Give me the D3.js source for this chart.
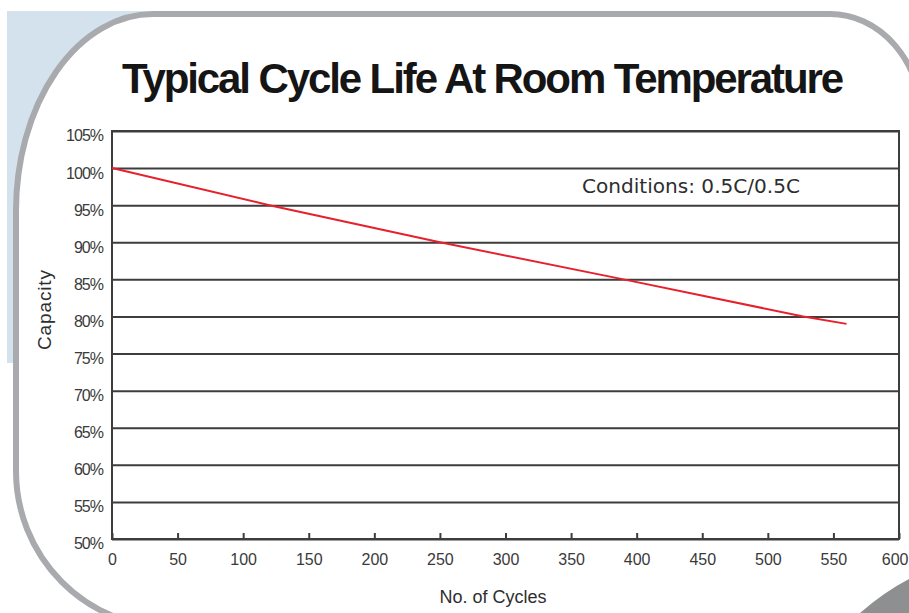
<!DOCTYPE html>
<html>
<head>
<meta charset="utf-8">
<script src="https://cdn.jsdelivr.net/npm/d3@7"></script>
<style>
    body { margin: 0; background: #fff; }
    svg { display: block; }
    text { font-family: "Liberation Sans", Arial, sans-serif; fill: #333; }
</style>
</head>
<body>
<div id="chart"></div>
<script>
// values
var cycles   = [0, 120, 250, 390, 527, 560];
var capacity = [100, 95, 90, 85, 80, 79];
var xTicks = [0, 50, 100, 150, 200, 250, 300, 350, 400, 450, 500, 550, 600];
var yTicks = [50, 55, 60, 65, 70, 75, 80, 85, 90, 95, 100, 105];

var title = "Typical Cycle Life At Room Temperature",
    note = "Conditions: 0.5C/0.5C",
    xLabel = "No. of Cycles",
    yLabel = "Capacity";

var width = 909,
    height = 613;

var svg = d3.select("#chart")
    .append("svg")
    .attr("width", width)
    .attr("height", height);

// card background: light blue patch behind the top-left corner, grey rounded outline
svg.append("rect")
    .attr("x", 7).attr("y", 11)
    .attr("width", 300).attr("height", 352)
    .attr("fill", "#d4e2ee");

svg.append("path")
    .attr("d", "M16,476 L16,211 A137,197 0 0 1 153,14 L830,14 A92,107 0 0 1 922,121 L922,640 L16,640 Z")
    .attr("fill", "#fff");

svg.append("path")
    .attr("d", "M173,628 A157,157 0 0 1 16,471 L16,211 A137,197 0 0 1 153,14 L830,14 A92,107 0 0 1 922,121")
    .attr("fill", "none")
    .attr("stroke", "#a8aaad")
    .attr("stroke-width", 6);

svg.append("path")
    .attr("d", "M860,613 Q884,592 909,579 L909,613 Z")
    .attr("fill", "#8d8f91");

var x = d3.scaleLinear().domain([0, 600]).range([112, 899]);
var y = d3.scaleLinear().domain([50, 105]).range([539, 131]);

// title (tight spacing like the original heading)
svg.append("text")
    .attr("x", 122)
    .attr("y", 93)
    .style("font-size", "42px")
    .style("font-weight", "bold")
    .style("letter-spacing", "-2.1px")
    .style("fill", "#151515")
    .text(title);

// horizontal grid + y labels
var yAxis = svg.append("g")
    .attr("transform", "translate(112,0)")
    .call(d3.axisLeft(y)
        .tickValues(yTicks)
        .tickSize(-787)
        .tickPadding(9)
        .tickFormat(function(d) { return d + "%"; }));

yAxis.select(".domain").remove();
yAxis.selectAll("line")
    .attr("stroke", "#3d3d3d")
    .attr("stroke-width", 2);
yAxis.selectAll("text")
    .attr("dy", "0.62em")
    .style("font-size", "16px")
    .style("letter-spacing", "-1px")
    .style("font-family", "Liberation Sans, Arial, sans-serif")
    .style("fill", "#3a3a3a");

// x axis with short ticks pointing up
var xAxis = svg.append("g")
    .attr("transform", "translate(0,539)")
    .call(d3.axisBottom(x)
        .tickValues(xTicks)
        .tickSize(-6)
        .tickPadding(15));

xAxis.select(".domain").remove();
xAxis.selectAll("line")
    .attr("stroke", "#3d3d3d")
    .attr("stroke-width", 2);
xAxis.selectAll("text")
    .style("font-size", "16px")
    .style("font-family", "Liberation Sans, Arial, sans-serif")
    .style("fill", "#3a3a3a");

// last label sits against the right edge, keep it inside
xAxis.selectAll(".tick")
    .filter(function(d) { return d === 600; })
    .select("text")
    .attr("text-anchor", "end")
    .attr("x", 9);

// plot frame
svg.append("rect")
    .attr("x", x(0))
    .attr("y", y(105))
    .attr("width", x(600) - x(0))
    .attr("height", y(50) - y(105))
    .attr("fill", "none")
    .attr("stroke", "#3d3d3d")
    .attr("stroke-width", 2);

// capacity curve
var pts = cycles.map(function(c, i) { return [c, capacity[i]]; });

svg.append("path")
    .datum(pts)
    .attr("d", d3.line()
        .x(function(d) { return x(d[0]); })
        .y(function(d) { return y(d[1]); }))
    .attr("fill", "none")
    .attr("stroke", "#e6202c")
    .attr("stroke-width", 2);

// test conditions note
svg.append("text")
    .attr("x", 582)
    .attr("y", 193)
    .attr("textLength", 218)
    .attr("lengthAdjust", "spacingAndGlyphs")
    .style("font-family", "DejaVu Sans, sans-serif")
    .style("font-size", "20px")
    .style("fill", "#2e2e2e")
    .text(note);

// axis titles
svg.append("text")
    .attr("x", 493)
    .attr("y", 603)
    .attr("text-anchor", "middle")
    .style("font-size", "18px")
    .style("fill", "#2e2e2e")
    .text(xLabel);

svg.append("text")
    .attr("transform", "translate(51,310) rotate(-90)")
    .attr("text-anchor", "middle")
    .attr("textLength", 80)
    .style("font-size", "19px")
    .style("fill", "#2e2e2e")
    .text(yLabel);
</script>
</body>
</html>
